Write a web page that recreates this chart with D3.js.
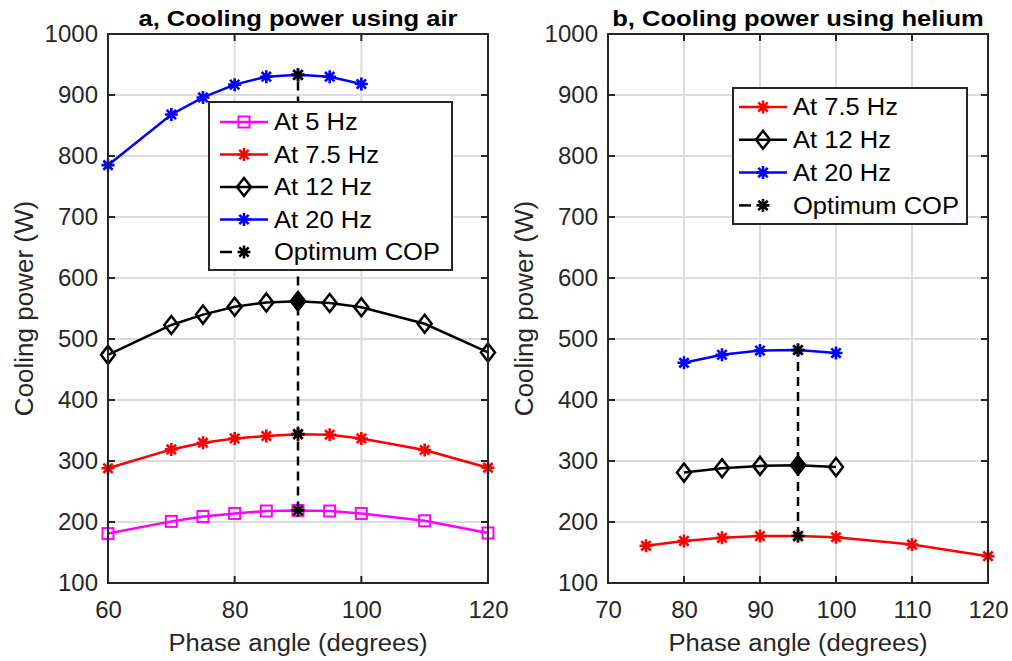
<!DOCTYPE html>
<html><head><meta charset="utf-8">
<script src="https://cdn.jsdelivr.net/npm/d3@7"></script>
<style>body{margin:0;background:#fff}svg{display:block}</style>
</head><body><svg id="c" width="1012" height="661"></svg>
<script>
// ---- data ----
const airAngles = [60,70,75,80,85,90,95,100,110,120];
const air5Hz   = [181,201,209,214,218,219,218,214,202,182];
const air7_5Hz = [288,319,330,337,341,344,343,337,318,289];
const air12Hz  = [474,523,540,553,560,562,559,552,525,478];
const air20Angles = [60,70,75,80,85,90,95,100];
const air20Hz  = [785,868,896,917,930,933,930,918];
const airOptAngle = 90;
const airOpt = [219,344,562,933];

const he7_5Angles = [75,80,85,90,95,100,110,120];
const he7_5Hz = [161,169,174,177,177,175,163,144];
const heAngles = [80,85,90,95,100];
const he12Hz = [281,288,292,293,290];
const he20Hz = [461,474,481,482,477];
const heOptAngle = 95;
const heOpt = [177,293,482];

const yTicks = [100,200,300,400,500,600,700,800,900,1000];
const airXTicks = [60,80,100,120];
const heXTicks = [70,80,90,100,110,120];

const titles = ["a, Cooling power using air","b, Cooling power using helium"];
const xLabel = "Phase angle (degrees)";
const yLabel = "Cooling power (W)";
const airLegend = ["At 5 Hz","At 7.5 Hz","At 12 Hz","At 20 Hz","Optimum COP"];
const heLegend = ["At 7.5 Hz","At 12 Hz","At 20 Hz","Optimum COP"];

// ---- drawing ----
const svg = d3.select("#c");
const AX = "#262626", GRID = "#dcdcdc";
const FONT = "'Liberation Sans', Arial, sans-serif";
const plotTop = 34, plotBottom = 583;

function widen(sel, k) {
  const n = sel.node();
  const w = n.getComputedTextLength();
  sel.attr("textLength", w * k).attr("lengthAdjust", "spacingAndGlyphs");
}

function marker(g, type, x, y, color, filled) {
  if (type === "square") {
    g.append("rect").attr("x", x-5.5).attr("y", y-5.5).attr("width", 11).attr("height", 11)
      .attr("fill", "none").attr("stroke", color).attr("stroke-width", 2);
  } else if (type === "diamond") {
    g.append("path").attr("d", `M${x},${y-9}L${x+7},${y}L${x},${y+9}L${x-7},${y}Z`)
      .attr("fill", filled ? color : "none").attr("stroke", color).attr("stroke-width", 2.5);
  } else if (type === "star") {
    const r = 6.5, d = r*0.72;
    const p = `M${x-r},${y}L${x+r},${y}M${x},${y-r}L${x},${y+r}M${x-d},${y-d}L${x+d},${y+d}M${x-d},${y+d}L${x+d},${y-d}`;
    g.append("path").attr("d", p).attr("stroke", color).attr("stroke-width", 2.6).attr("fill", "none");
  }
}

function panel(cfg) {
  const x = d3.scaleLinear().domain(cfg.xDomain).range([cfg.x0, cfg.x1]);
  const y = d3.scaleLinear().domain([100,1000]).range([plotBottom, plotTop]);
  const g = svg.append("g");
  // grid
  g.selectAll(".gx").data(cfg.xTicks).join("line")
    .attr("x1", d=>x(d)).attr("x2", d=>x(d)).attr("y1", plotTop).attr("y2", plotBottom)
    .attr("stroke", GRID).attr("stroke-width", 2);
  g.selectAll(".gy").data(yTicks).join("line")
    .attr("y1", d=>y(d)).attr("y2", d=>y(d)).attr("x1", cfg.x0).attr("x2", cfg.x1)
    .attr("stroke", GRID).attr("stroke-width", 2);
  // axes via d3
  const axL = d3.axisLeft(y).tickValues(yTicks).tickFormat(d3.format("d")).tickSize(0).tickPadding(10);
  const axB = d3.axisBottom(x).tickValues(cfg.xTicks).tickFormat(d3.format("d")).tickSize(0).tickPadding(18);
  const gl = g.append("g").attr("transform", `translate(${cfg.x0},0)`).call(axL);
  const gb = g.append("g").attr("transform", `translate(0,${plotBottom})`).call(axB);
  [gl, gb].forEach(a => {
    a.select(".domain").remove();
    a.selectAll("text").attr("font-family", FONT).attr("font-size", 24).attr("fill", AX);
  });
  // ticks inside
  const tl = 7;
  yTicks.forEach(v => {
    g.append("line").attr("x1", cfg.x0).attr("x2", cfg.x0+tl).attr("y1", y(v)).attr("y2", y(v)).attr("stroke", AX).attr("stroke-width", 2);
    g.append("line").attr("x1", cfg.x1).attr("x2", cfg.x1-tl).attr("y1", y(v)).attr("y2", y(v)).attr("stroke", AX).attr("stroke-width", 2);
  });
  cfg.xTicks.forEach(v => {
    g.append("line").attr("y1", plotBottom).attr("y2", plotBottom-tl).attr("x1", x(v)).attr("x2", x(v)).attr("stroke", AX).attr("stroke-width", 2);
    g.append("line").attr("y1", plotTop).attr("y2", plotTop+tl).attr("x1", x(v)).attr("x2", x(v)).attr("stroke", AX).attr("stroke-width", 2);
  });
  // series
  const line = d3.line().x(d=>x(d[0])).y(d=>y(d[1]));
  cfg.series.forEach(s => {
    const pts = s.xs.map((a,i)=>[a, s.ys[i]]);
    g.append("path").attr("d", line(pts)).attr("fill","none").attr("stroke", s.color).attr("stroke-width", 2.5);
    pts.forEach(p => marker(g, s.marker, x(p[0]), y(p[1]), s.color, false));
  });
  // optimum
  const opt = cfg.optVals.map(v=>[cfg.optAngle, v]);
  g.append("path").attr("d", line([[cfg.optAngle, d3.min(cfg.optVals)],[cfg.optAngle, d3.max(cfg.optVals)]]))
    .attr("stroke","#000").attr("stroke-width",2.5).attr("stroke-dasharray","9,6").attr("fill","none");
  opt.forEach((p,i) => {
    if (i === cfg.optDiamond) marker(g, "diamond", x(p[0]), y(p[1]), "#000", true);
    else marker(g, "star", x(p[0]), y(p[1]), "#000", false);
  });
  // box
  g.append("rect").attr("x", cfg.x0).attr("y", plotTop).attr("width", cfg.x1-cfg.x0).attr("height", plotBottom-plotTop)
    .attr("fill","none").attr("stroke", AX).attr("stroke-width", 2);
  // title
  const t = g.append("text").attr("x", (cfg.x0+cfg.x1)/2).attr("y", 26).attr("text-anchor","middle")
    .attr("font-family", FONT).attr("font-weight","bold").attr("font-size", 22).attr("fill","#000").text(cfg.title);
  widen(t, 1.16);
  const xl = g.append("text").attr("x", (cfg.x0+cfg.x1)/2).attr("y", 651).attr("text-anchor","middle")
    .attr("font-family", FONT).attr("font-size", 23.5).attr("fill", AX).text(xLabel);
  widen(xl, 1.09);
  g.append("text").attr("transform", `translate(${cfg.x0-75},${(plotTop+plotBottom)/2}) rotate(-90)`).attr("text-anchor","middle")
    .attr("font-family", FONT).attr("font-size", 26).attr("fill", AX).text(yLabel);
  // legend
  const L = cfg.legend;
  const lg = g.append("g");
  lg.append("rect").attr("x", L.x).attr("y", L.y).attr("width", L.w).attr("height", L.h)
    .attr("fill","#fff").attr("stroke", AX).attr("stroke-width", 2);
  L.items.forEach((it, i) => {
    const yy = L.y + L.first + i*L.step;
    const lx0 = L.x + L.lineStart, lx1 = lx0 + 48, mx = lx0 + 24;
    if (it.opt) {
      lg.append("line").attr("x1", lx0).attr("x2", lx0+12).attr("y1", yy).attr("y2", yy).attr("stroke","#000").attr("stroke-width",2.5);
      marker(lg, "star", mx, yy, "#000", false);
    } else {
      lg.append("line").attr("x1", lx0).attr("x2", lx1).attr("y1", yy).attr("y2", yy).attr("stroke", it.color).attr("stroke-width",2.5);
      marker(lg, it.marker, mx, yy, it.color, false);
    }
    const tx = lg.append("text").attr("x", L.x + L.textStart).attr("y", yy).attr("dy","0.36em")
      .attr("font-family", FONT).attr("font-size", 23).attr("fill","#000").text(it.label);
    widen(tx, 1.11);
  });
}

panel({
  x0: 108, x1: 488, xDomain: [60,120], xTicks: airXTicks, title: titles[0],
  series: [
    {xs: airAngles, ys: air5Hz, color:"#ff00ff", marker:"square"},
    {xs: airAngles, ys: air7_5Hz, color:"#ff0000", marker:"star"},
    {xs: airAngles, ys: air12Hz, color:"#000000", marker:"diamond"},
    {xs: air20Angles, ys: air20Hz, color:"#0000ff", marker:"star"}
  ],
  optAngle: airOptAngle, optVals: airOpt, optDiamond: 2,
  legend: {x: 209, y: 102, w: 243, h: 168, first: 20, step: 32.5, lineStart: 11, textStart: 65, items: [
    {label: airLegend[0], color:"#ff00ff", marker:"square"},
    {label: airLegend[1], color:"#ff0000", marker:"star"},
    {label: airLegend[2], color:"#000000", marker:"diamond"},
    {label: airLegend[3], color:"#0000ff", marker:"star"},
    {label: airLegend[4], opt:true}
  ]}
});
panel({
  x0: 608, x1: 988, xDomain: [70,120], xTicks: heXTicks, title: titles[1],
  series: [
    {xs: he7_5Angles, ys: he7_5Hz, color:"#ff0000", marker:"star"},
    {xs: heAngles, ys: he12Hz, color:"#000000", marker:"diamond"},
    {xs: heAngles, ys: he20Hz, color:"#0000ff", marker:"star"}
  ],
  optAngle: heOptAngle, optVals: heOpt, optDiamond: 1,
  legend: {x: 733, y: 88, w: 234, h: 136, first: 19, step: 32.8, lineStart: 6, textStart: 60, items: [
    {label: heLegend[0], color:"#ff0000", marker:"star"},
    {label: heLegend[1], color:"#000000", marker:"diamond"},
    {label: heLegend[2], color:"#0000ff", marker:"star"},
    {label: heLegend[3], opt:true}
  ]}
});
</script></body></html>
